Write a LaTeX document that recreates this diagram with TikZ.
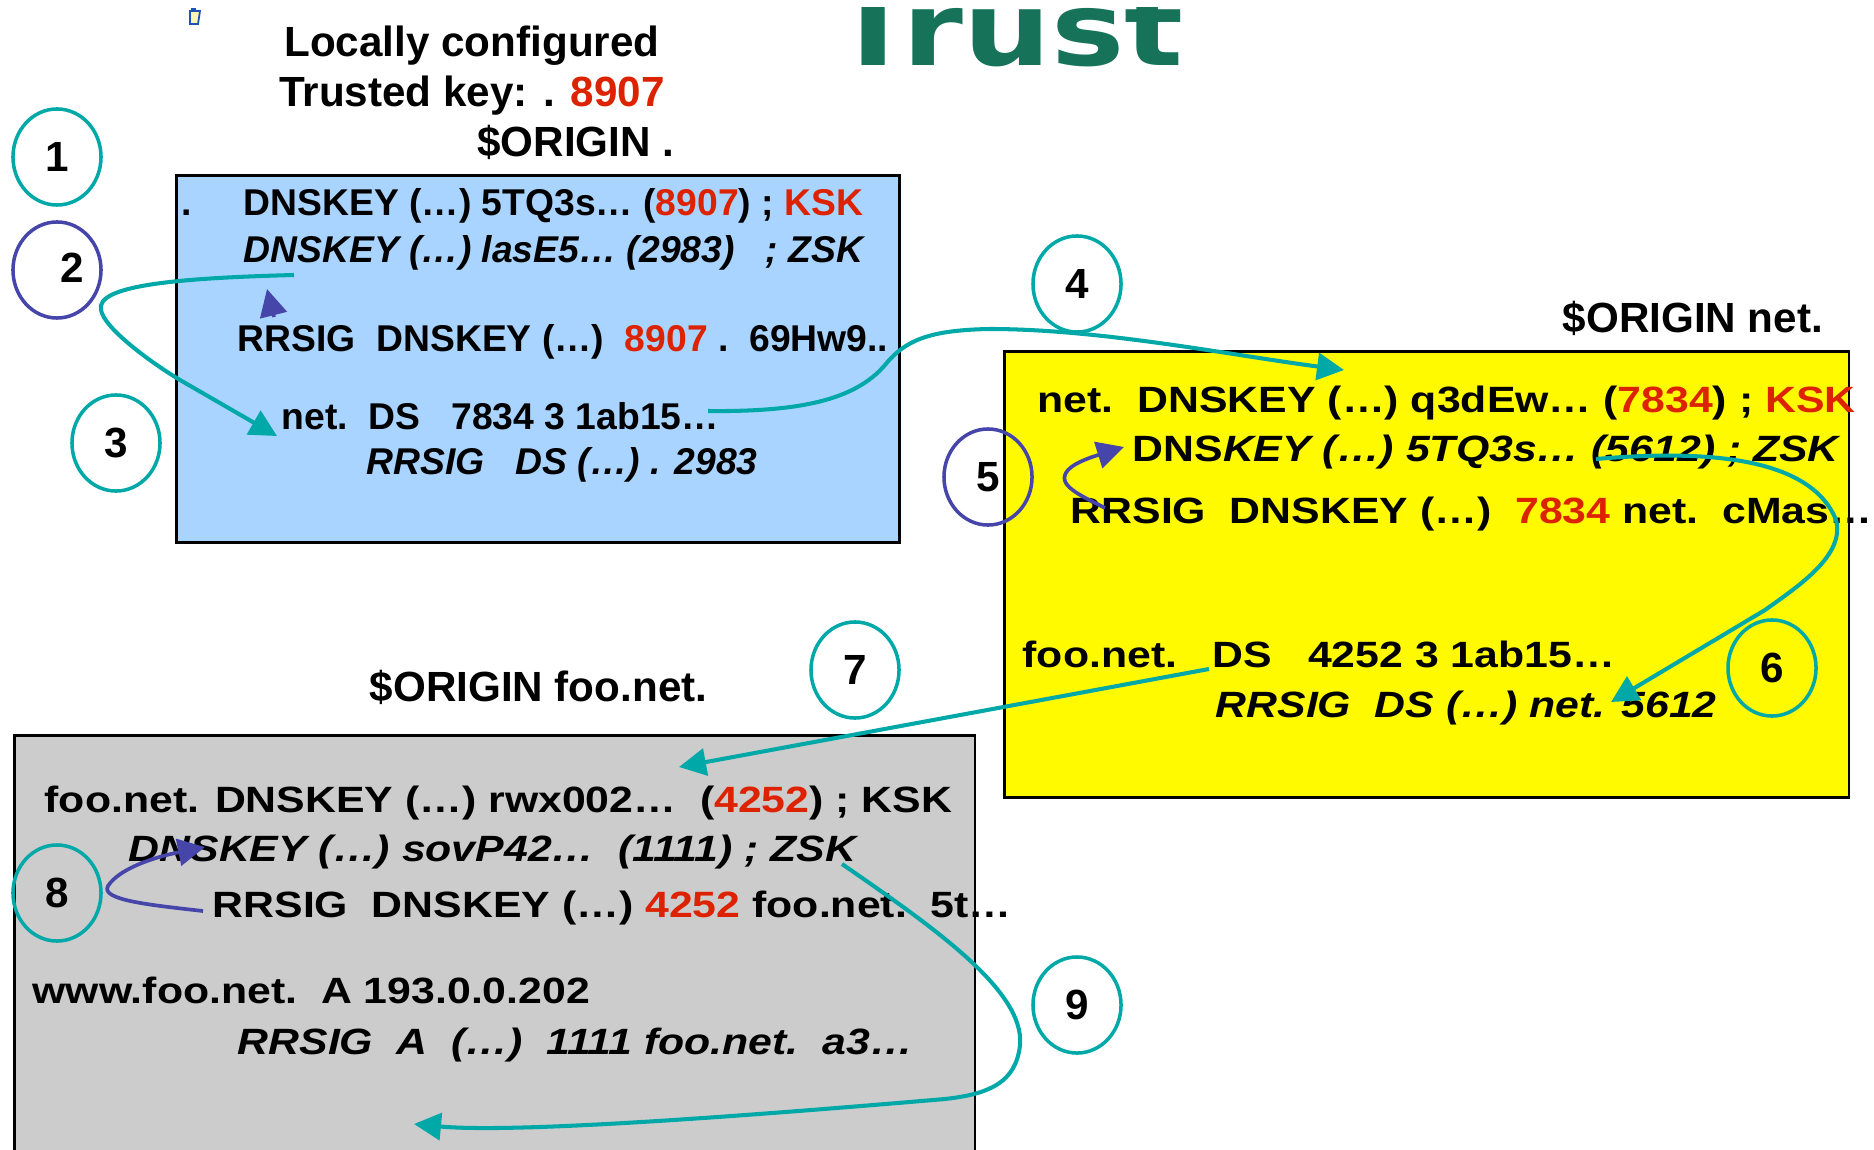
\documentclass[tikz,border=0pt]{standalone}
\usepackage{fontspec}
\setmainfont{Liberation Sans}
\newfontfamily\widefont[FakeStretch=1.17]{Liberation Sans}
\newfontfamily\titlefont[FakeStretch=1.21]{DejaVu Sans}
\usetikzlibrary{arrows.meta,shapes.geometric}

\definecolor{keyred}{RGB}{221,34,0}
\definecolor{linkteal}{RGB}{0,168,168}
\definecolor{linkindigo}{RGB}{70,70,170}
\definecolor{rootblue}{RGB}{168,212,255}
\definecolor{netyellow}{RGB}{255,250,0}
\definecolor{foogray}{RGB}{204,204,204}
\definecolor{titlegreen}{RGB}{22,115,90}
\definecolor{iconblue}{RGB}{30,80,190}
\definecolor{iconfill}{RGB}{255,250,170}

\newcommand{\kr}[1]{\textcolor{keyred}{#1}}

\tikzset{
  zonebox/.style={draw=black, line width=0.75pt, anchor=north west, inner sep=0},
  rtxt/.style={inner sep=0, anchor=base west, font=\bfseries\fontsize{10.6}{12}\selectfont},
  wtxt/.style={inner sep=0, anchor=base west, font=\widefont\bfseries\fontsize{10.4}{12}\selectfont},
  headtxt/.style={inner sep=0, font=\bfseries\fontsize{12}{14}\selectfont},
  ring/.style={ellipse, line width=1pt, minimum width=0.88cm, minimum height=0.96cm,
    inner sep=0, font=\bfseries\fontsize{12}{14}\selectfont},
  tealring/.style={ring, draw=linkteal},
  indring/.style={ring, draw=linkindigo},
  ringnum/.style={inner sep=0, font=\bfseries\fontsize{12}{14}\selectfont},
  teallink/.style={draw=linkteal, line width=1.15pt, -{Triangle[length=0.27cm,width=0.27cm]}},
  indlink/.style={draw=linkindigo, line width=1.05pt, -{Triangle[length=0.27cm,width=0.27cm]}},
}

\begin{document}
\begin{tikzpicture}[x=0.01cm, y=-0.01cm]
\useasboundingbox (0,0) rectangle (1874,1149);

% slide title, only its lower part lies on the page
\begin{scope}
  \clip (700,8) rectangle (1300,120);
  \node[anchor=base west, inner sep=0, text=titlegreen,
        font=\titlefont\bfseries\fontsize{29}{34}\selectfont] (title) at (831,66) {Trust};
\end{scope}

% small clipboard icon
\draw[draw=iconblue, fill=iconfill, line width=0.5pt] (190,11) -- (200,11) -- (198,24) -- (190,24) -- cycle;
\fill[iconblue] (191,8) rectangle (196,11);

% trust anchor heading
\node[headtxt, anchor=base] (hd1) at (472,57) {Locally configured};
\node[headtxt, anchor=base] (hd2) at (472,107) {Trusted key: . \kr{8907}};
\node[headtxt, anchor=base east] (orroot) at (675,157) {\$ORIGIN .};
\node[headtxt, anchor=base west] (ornet) at (1562,332) {\$ORIGIN net.};
\node[headtxt, anchor=base west] (orfoo) at (369,701) {\$ORIGIN foo.net.};

% zone boxes
\node[zonebox, fill=rootblue, minimum width=7.23cm, minimum height=3.67cm] (rootzone) at (175,174) {};
\node[zonebox, fill=netyellow, minimum width=8.44cm, minimum height=4.46cm] (netzone) at (1003,350) {};
\node[zonebox, fill=foogray, minimum width=9.60cm, minimum height=4.40cm] (foozone) at (13,734) {};

% root zone records
\node[rtxt] (rdot) at (181,216) {.};
\node[rtxt] (rksk) at (243,216) {DNSKEY (…) 5TQ3s… (\kr{8907}) ; \kr{KSK}};
\node[rtxt] (rzsk) at (243,263) {\itshape DNSKEY (…) lasE5… (2983)~~~; ZSK};
\node[rtxt] (rsig) at (237,351) {RRSIG~~DNSKEY (…)~~\kr{8907} .~~69Hw9..};
\node[rtxt] (rds) at (281,429) {net.~~DS~~~7834 3 1ab15…};
\node[rtxt] (rdssig) at (366,474) {\itshape RRSIG~~~DS (…) . 2983};

% net zone records
\node[wtxt] (nksk) at (1037,412) {net.~~DNSKEY (…) q3dEw… (\kr{7834}) ; \kr{KSK}};
\node[wtxt] (nzsk) at (1132,461) {DNS\itshape KEY (…) 5TQ3s… (5612) ; ZSK};
\node[wtxt] (nsig) at (1070,523) {RRSIG~~DNSKEY (…)~~\kr{7834} net.~~cMas…};
\node[wtxt] (nds) at (1022,667) {foo.net.~~~DS~~~4252 3 1ab15…};
\node[wtxt] (ndssig) at (1215,717) {\itshape RRSIG~~DS (…) net. 5612};

% foo.net zone records
\node[wtxt] (fksk) at (44,812) {foo.net. DNSKEY (…) rwx002…~~(\kr{4252}) ; KSK};
\node[wtxt] (fzsk) at (128,861) {\itshape DNSKEY (…) sovP42…~~(1111) ; ZSK};
\node[wtxt] (fsig) at (212,917) {RRSIG~~DNSKEY (…) \kr{4252} foo.net.~~5t…};
\node[wtxt] (fa) at (32,1003) {www.foo.net.~~A 193.0.0.202};
\node[wtxt] (fasig) at (237,1054) {\itshape RRSIG~~A~~(…)~~1111 foo.net.~~a3…};

% numbered step rings
\node[tealring] (r1) at (57,157) {1};
\node[indring] (r2) at (57,270) {};
\node[ringnum] (r2n) at (72,268) {2};
\node[tealring] (r3) at (116,443) {3};
\node[tealring] (r4) at (1077,284) {4};
\node[indring] (r5) at (988,477) {5};
\node[tealring] (r6) at (1772,668) {6};
\node[tealring] (r7) at (855,670) {7};
\node[tealring] (r8) at (57,893) {8};
\node[tealring] (r9) at (1077,1005) {9};

% connector end points
\coordinate (a2s) at (274,317);
\coordinate (a2e) at (267,289);
\coordinate (a3s) at (294,275);
\coordinate (a3e) at (277,436);
\coordinate (a4s) at (708,411);
\coordinate (a4e) at (1344,370);
\coordinate (a5s) at (1105,508);
\coordinate (a5e) at (1124,447);
\coordinate (a6s) at (1596,459);
\coordinate (a6e) at (1611,702);
\coordinate (a7s) at (1209,669);
\coordinate (a7e) at (679,767);
\coordinate (a8s) at (203,911);
\coordinate (a8e) at (205,847);
\coordinate (a9s) at (842,864);
\coordinate (a9e) at (414,1124);

% validation chain
\draw[indlink] (a2s) -- (a2e);
\draw[teallink] (a3s) .. controls (180,278) and (95,285) .. (101,310)
  .. controls (104,328) and (150,362) .. (180,380) -- (a3e);
\draw[teallink] (a4s) .. controls (800,412) and (855,400) .. (885,365)
  .. controls (905,340) and (930,330) .. (990,329)
  .. controls (1100,329) and (1230,355) .. (a4e);
\draw[indlink] (a5s) .. controls (1080,495) and (1055,485) .. (1068,470)
  .. controls (1075,462) and (1095,456) .. (a5e);
\draw[teallink] (a6s) .. controls (1700,450) and (1810,455) .. (1836,520)
  .. controls (1845,555) and (1800,585) .. (1765,610) -- (a6e);
\draw[teallink] (a7s) -- (a7e);
\draw[indlink] (a8s) .. controls (150,905) and (100,900) .. (108,886)
  .. controls (118,870) and (150,858) .. (a8e);
\draw[teallink] (a9s) .. controls (930,925) and (1025,990) .. (1020,1045)
  .. controls (1016,1082) and (990,1094) .. (945,1099)
  .. controls (780,1113) and (520,1134) .. (a9e);
\end{tikzpicture}
\end{document}
